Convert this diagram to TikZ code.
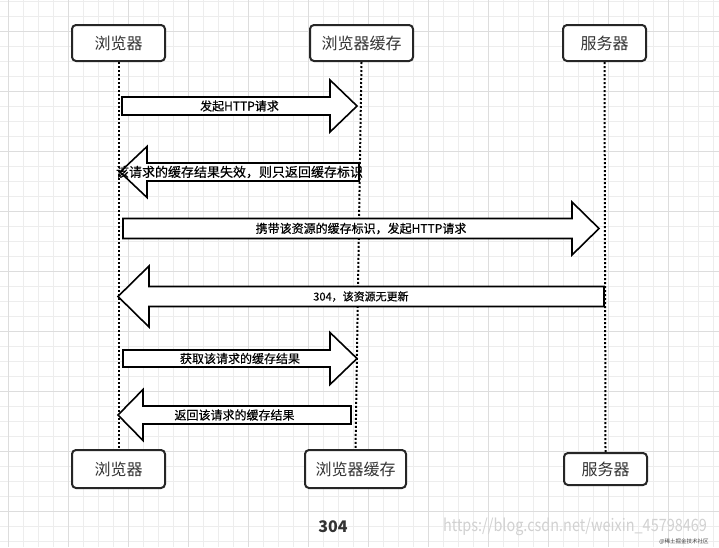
\documentclass[tikz,border=0pt]{standalone}
\usepackage{fontspec}
\setmainfont{Noto Sans CJK SC}
\newfontfamily\msgfont[FakeBold=0.4]{Noto Sans CJK SC}
\usepackage{tikz}
\usetikzlibrary{positioning}
\usetikzlibrary{calc}

\definecolor{boxline}{HTML}{262626}
\definecolor{labelgray}{HTML}{333333}
\definecolor{gridminor}{HTML}{EDEDED}
\definecolor{gridmajor}{HTML}{DDDDDD}

\tikzset{
  actor/.style={draw=boxline, line width=2pt, rounded corners=4pt, fill=white, text=labelgray, font=\fontsize{16}{18}\selectfont, inner sep=0pt},
  lifeline/.style={draw=black, line width=2pt, dash pattern=on 2pt off 2pt},
  block/.style={draw=black, line width=1.6pt, fill=white, line join=miter},
  msg/.style={font=\msgfont\fontsize{12}{14}\selectfont, text=black, inner sep=0pt},
}

% name, tail x, head base x, tip x, y, half shaft, half head, label
\newcommand{\blockmsg}[8]{%
  \draw[block] (#2,{#5-#6}) -- (#3,{#5-#6}) -- (#3,{#5-#7}) -- (#4,#5) -- (#3,{#5+#7}) -- (#3,{#5+#6}) -- (#2,{#5+#6}) -- cycle;
  \node[msg] (#1) at ({(#2+#4)/2},#5) {#8};}

\begin{document}
\begin{tikzpicture}[x=1pt, y=-1pt]
	\fill[white] (0,0) rectangle (719,547);
	\useasboundingbox (0,0) rectangle (719,547);
	\foreach \gx in {8.3,23.3,...,718} \draw[gridminor, line width=0.8pt] (\gx,0) -- (\gx,547);
	\foreach \gy in {1.7,16.7,...,547} \draw[gridminor, line width=0.8pt] (0,\gy) -- (719,\gy);
	\foreach \gx in {8.3,68.3,...,718} \draw[gridmajor, line width=1pt] (\gx,0) -- (\gx,547);
	\foreach \gy in {31.7,91.7,...,547} \draw[gridmajor, line width=1pt] (0,\gy) -- (719,\gy);

	\node at (118.5,43) (browsertop) [actor, minimum width=93pt, minimum height=36pt] {浏览器};
	\node at (361.5,43) (cachetop) [actor, minimum width=103pt, minimum height=36pt] {浏览器缓存};
	\node at (604.5,43) (servertop) [actor, minimum width=83pt, minimum height=36pt] {服务器};
	\node at (118.5,469) (browserbot) [actor, minimum width=93pt, minimum height=38pt] {浏览器};
	\node at (355.5,469) (cachebot) [actor, minimum width=101pt, minimum height=38pt] {浏览器缓存};
	\node at (605.5,469) (serverbot) [actor, minimum width=83pt, minimum height=32pt] {服务器};

	\draw[lifeline] (browsertop.south) -- (browserbot.north);
	\draw[lifeline] (cachetop.south) -- (cachebot.north);
	\draw[lifeline] (servertop.south) -- (serverbot.north);

	\blockmsg{request}{122}{330}{357}{106}{9}{26}{发起HTTP请求}
	\blockmsg{expired}{359}{147}{120}{172}{9}{25.5}{\fontsize{13}{15}\selectfont 该请求的缓存结果失效，则只返回缓存标识}
	\blockmsg{revalidate}{123}{572}{599}{228.5}{10}{26.5}{携带该资源的缓存标识，发起HTTP请求}
	\blockmsg{notmodified}{604}{149}{118}{296.5}{10}{30.5}{\fontsize{11}{13}\selectfont 304，该资源无更新}
	\blockmsg{fetch}{123}{330}{357}{358.5}{8.5}{26}{获取该请求的缓存结果}
	\blockmsg{reply}{351}{143}{118}{415}{9}{25.5}{返回该请求的缓存结果}

	\node at (333,527) (caption) [font=\fontsize{16}{18}\selectfont\bfseries, text=labelgray] {304};
	\node at (575,527) (mark) [font=\fontsize{17}{19}\selectfont, text=black!18, xscale=0.85] {https://blog.csdn.net/weixin\_45798469};
	\node at (684,542) (tag) [font=\fontsize{5.5}{6}\selectfont, text=black!75] {@稀土掘金技术社区};
\end{tikzpicture}
\end{document}
